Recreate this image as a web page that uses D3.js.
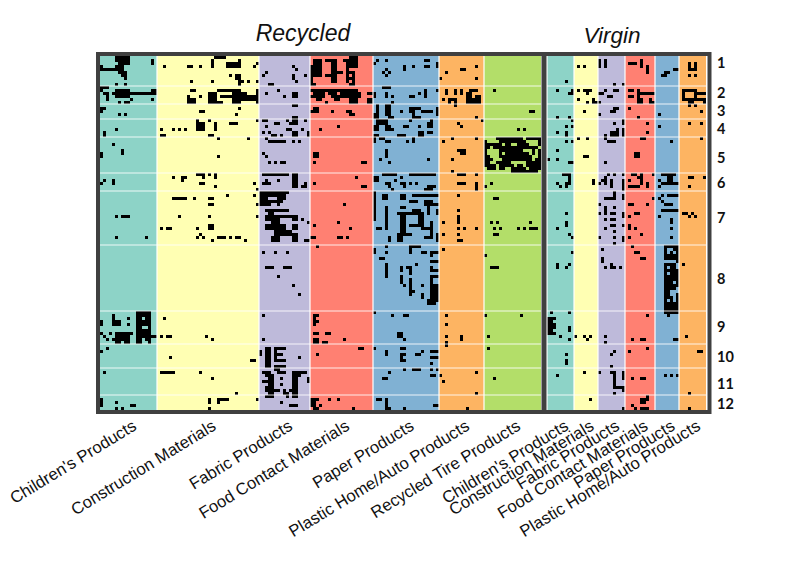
<!DOCTYPE html>
<html><head><meta charset="utf-8">
<script src="https://cdn.jsdelivr.net/npm/d3@7/dist/d3.min.js"></script>
<style>html,body{margin:0;padding:0;background:#fff}svg{display:block}</style>
</head><body><svg id="c" width="800" height="579"></svg>
<script>
// Product categories, in display order
const recycledCategories = ["Children's Products","Construction Materials","Fabric Products","Food Contact Materials","Paper Products","Plastic Home/Auto Products","Recycled Tire Products"];
const virginCategories = ["Children's Products","Construction Materials","Fabric Products","Food Contact Materials","Paper Products","Plastic Home/Auto Products"];
// Number of samples (columns) per category
const recycledSamples = [19,34,17,21,22,15,19];
const virginSamples = [9,8,9,10,8,9];
const sampleGap = 2;
// Number of chemicals (rows) per cluster
const clusterSizes = [10,6,5,6,12,6,18,22,11,8,9,5];
const clusterLabels = ["1","2","3","4","5","6","7","8","9","10","11","12"];
const clusterLabelRows = [2.3,12.3,18.3,24.3,33.7,42,53.7,74.3,90,100,109,115.7];
const categoryColors = ["#8dd3c7","#ffffb3","#bebada","#ff8072","#80b1d3","#fdb462","#b3de69"];
// Detections: [sample, chemical, sampleSpan, chemicalSpan]
const hitsRecChildren = [[5,0,5,2],[6,2,4,1],[5,3,3,2],[6,5,3,1],[7,6,2,1],[8,7],[17,1,1,2],[0,3,1,2],[1,4,2,1],[3,4,2,1],[5,9],[8,9],
[0,10,3,1],[5,11,5,3],[4,12],[9,12,9,1],[17,11,2,2],[0,11],[1,12,2,1],[2,13,1,2],[6,15],[8,15,2,1],[10,14],[17,14],
[0,17,1,2],[1,17],[6,19],[8,19],[5,24],[1,25,1,2],[4,29],[0,32,1,2],[7,31,1,2],[1,41],[4,41,1,2],[0,42],[5,53],[7,53,3,1],[5,60],[15,60],
[0,88,1,2],[4,86,1,4],[5,88,2,2],[9,87],[9,89],[12,85,5,2],[12,87,2,1],[15,87,2,1],[12,88,5,2],[12,90,2,1],[16,90],[12,91,5,2],
[0,92],[3,92],[1,93],[2,94],[4,94],[5,92,6,1],[5,93,5,2],[5,95,2,1],[8,95,2,1],[12,93,6,1],[12,94,2,1],[15,94,2,1],[12,95,2,1],[16,95],[18,93],
[0,98],[2,97],[1,105],[0,114,1,3],[5,115],[10,116,2,1],[5,117],[7,117]];
const hitsRecConstruction = [[37,1,1,3],[38,0,4,1],[42,2,5,2],[46,1],[52,2],[21,3],[29,3,2,1],[33,3],[37,3],[51,3],[43,6],[45,6,2,2],[46,8,2,1],[30,8],[37,8],[49,8],[52,8],[46,9],
[30,11,2,1],[29,14,3,2],[29,13,1,2],[33,13],[36,12,3,3],[36,15,3,1],[39,11,8,1],[40,13,12,1],[44,12,5,3],[49,13,4,2],[52,11,1,5],[39,15,2,1],[44,15,3,1],
[33,18,2,1],[46,17],[45,19],[20,24],[24,24],[26,24],[28,24],[32,22,3,3],[32,21],[36,21],[38,22,1,3],[43,22,3,1],[52,21],[20,26,2,1],[36,26,2,1],
[39,27],[49,27],[39,33],[24,40],[27,40,2,1],[27,41],[32,39,3,1],[34,40],[36,39],[38,39,1,2],[33,42,2,1],[38,43],[51,42],[52,44],
[24,47,5,1],[31,47],[36,47,2,1],[42,46],[51,46],[36,49,2,1],[52,49],[26,53],[36,53],[52,53],[20,57],[22,57,2,1],[32,57],[36,56,2,2],[33,59],[32,60],[34,60],[39,60,3,1],[43,60],[45,60,2,1],[37,61],[48,61],
[21,87],[22,93,2,1],[20,93],[35,93],[37,94],[23,100],[50,101,2,1],[20,105,5,1],[33,105],[37,107],[45,112],[36,114,1,2],[36,117],[39,114,4,1],[39,115],[52,114]];
const hitsRecFabric = [[64,3],[65,4],[64,6],[64,7],[65,8],[68,6],[55,5],[54,6],[56,9,2,1],[55,12],[59,11],[61,13],[64,12,2,2],[64,16,2,1],
[64,20,2,2],[54,21,2,1],[58,22,2,1],[62,21],[63,22,3,1],[55,23],[62,24,2,1],[68,21],[67,24],[54,25],[56,25],[57,26,2,1],[60,26],[64,25,2,2],[69,25,1,2],
[55,27],[56,28,2,1],[58,28,4,1],[64,28],[66,28],[54,32],[55,33],[56,35],[58,35],[60,35,2,1],
[54,39,9,1],[64,39,2,5],[54,42,3,1],[55,41],[59,41],[68,42],[67,43,2,1],
[53,45,10,1],[53,46,2,4],[54,46,8,1],[55,47,1,1],[59,47,3,1],[54,48,7,1],[54,49,3,1],[59,49],[55,51,8,1],[56,52,2,2],[56,53,8,1],[55,53,5,2],[57,55,3,2],[55,56,7,2],[58,58,6,2],[57,60,3,2],[64,53,2,2],[64,56,2,2],[64,59,2,3],[67,54],[69,55],[68,61,2,1],
[54,65],[58,65],[62,65],[55,70,3,1],[61,70,3,1],[59,73],[64,76],[66,79],[54,86],[54,94],
[53,98,1,2],[55,97,2,7],[58,97,1,5],[59,97,3,1],[59,99,2,1],[59,101,3,1],[58,103,4,1],[58,104,2,1],[66,100],
[54,105,3,1],[55,106,3,1],[56,107,2,6],[54,108,2,1],[55,110,2,2],[59,105,3,1],[60,107],[60,109],[64,105,5,1],[64,106,3,1],[64,107,2,7],[69,107,1,2],[57,111,3,1],[61,111,1,2],[62,112,1,2],[63,111],[55,113,3,1],[60,115],[63,116,3,1]];
const hitsRecFood = [[70,3,3,4],[71,1,2,2],[75,1,4,1],[77,2,2,7],[73,1,1,6],[81,1,3,1],[82,2,1,7],[84,5,1,4],[79,5,2,1],[75,6,2,1],[70,7,1,2],[70,9,2,1],[83,0,3,4],[83,5,2,1],[83,7,2,1],[84,8],[83,9,2,1],
[70,11,13,1],[71,12,4,1],[72,13,3,1],[76,12,3,1],[80,12,4,1],[77,13,6,1],[72,14,2,1],[78,14,2,1],[83,13,2,2],[70,13,2,1],[75,15],[83,11,3,5],[89,12,2,1],[89,14,2,2],[86,12,1,2],
[70,18,3,1],[71,17,2,1],[77,18],[82,18,2,1],[83,19,2,1],[73,24],[79,23],[71,32,2,2],[71,35],[87,35,2,1],[71,42],[85,40],[87,43,2,1],[81,49],[71,56],[79,55],[70,60,2,1],[79,60,2,1],[82,60],[83,57],
[72,63],[71,86,2,1],[71,87,1,3],[71,88,2,1],[71,92,2,1],[75,92,2,1],[71,94,2,2],[74,95,2,1],[81,94],[72,99],[86,97,2,1],
[70,114,3,1],[70,115,2,2],[71,117,2,1],[73,116],[76,114],[79,114],[84,117]];
const hitsRecPaper = [[92,1],[95,1],[95,4],[94,5],[96,5],[95,6],[91,2],[101,3],[104,3],[108,1,2,1],[108,3,2,1],[101,4],[112,3],[112,2],
[94,10,3,1],[95,12,1,2],[97,13],[103,13,2,1],[106,12],[108,11,1,3],[97,15],[91,12,1,2],[112,11],
[92,16,1,4],[91,19,2,2],[95,16,2,4],[96,20,2,1],[100,18],[103,17,1,2],[104,17,1,4],[105,17,2,1],[105,20,2,1],[107,18,3,1],[110,18],[112,17,1,3],
[92,21,4,2],[91,23,2,2],[95,24,3,1],[91,26,2,1],[95,23,2,1],[99,26,3,1],[101,23],[103,21],[102,23],[106,25,2,2],[106,23],[109,22,2,2],[109,25,2,1],[110,21],
[91,27,1,2],[93,27],[94,27],[95,28,2,1],[102,28],[104,28],[104,27],[93,34],[95,31,1,3],[96,35],[109,34],
[91,40,2,2],[94,39,5,1],[95,42,2,1],[96,43],[97,44],[100,40],[100,42,2,1],[101,43],[98,41],[103,42],[105,42],[103,39,9,1],[109,43,3,1],[108,44,3,1],
[91,45,1,6],[94,46,2,2],[91,51,1,4],[95,50,1,8],[100,46,2,2],[104,46,4,1],[108,46,5,1],[103,48,3,1],[100,50,2,1],[99,52,9,1],[100,52,2,7],[104,51,3,1],[106,52,2,5],[108,48,3,2],[109,50,1,3],[111,49,2,1],[112,51,1,2],[110,55,1,5],[107,57,4,1],[103,56,5,1],[92,57,2,1],[96,60,1,2],[99,59,5,1],[99,60,2,2],[108,60,3,1],[112,59,1,3],
[91,64,1,2],[95,63],[95,65],[93,67,2,1],[103,63,4,1],[103,64,1,2],[107,65,2,1],[110,65,3,1],[110,66],[110,68,3,1],[95,69,1,5],[100,70,1,2],[100,73,1,3],[101,76],[103,70,1,3],[102,70],[105,69],[103,74,1,6],[104,78],[107,76],[107,79,1,2],[110,70],[110,71,3,1],[110,73,3,1],[110,74,1,9],[111,76,1,6],[112,76,1,5],[109,81,3,2],[112,81],
[91,85],[97,86],[101,86,2,1],[99,92,2,2],[101,94],[91,97],[95,98,1,2],[100,97,2,1],[100,99,1,3],[101,99],[101,101],[107,98],[110,98,3,1],[105,99,2,1],[110,100,3,1],[110,102],[101,104],[104,104,3,1],[110,104],[112,104],
[96,105],[94,107,2,1],[110,106,2,1],[92,114,2,1],[95,114],[95,115,1,2],[95,117,2,1],[101,117],[111,116,2,1]];
const hitsRecPlastic = [[125,3],[120,4,2,1],[115,5],[113,7],[125,7],[115,11,1,2],[118,11,1,2],[120,11,1,2],[114,14],[116,14,3,1],[118,15,1,2],[116,15],[123,11,3,1],[122,12,2,2],[122,14,5,2],[125,13,2,1],
[125,20],[127,21],[119,22],[120,23],[114,28],[117,27],[125,27],[119,31,3,1],[120,32,2,1],[117,34],[117,38],[119,39,3,1],[125,39],[119,42,3,1],[125,42,1,3],
[119,46],[119,51],[119,53,1,3],[114,55],[119,57],[121,57],[125,57],[114,59],[119,59],[119,61,2,1],[114,64],[115,86],[115,89],[115,93],[115,95,1,2],[120,93,1,2],[113,106],[114,108],[125,105],[125,112],[122,117]];
const hitsRecTire = [[131,11],[143,18,2,1],[139,24],[141,24],
[132,27,9,1],[142,27,5,1],[128,28],[133,28,9,1],[146,28],[128,29,6,1],[135,29,2,1],[139,29,4,1],[146,29],[128,30,2,1],[131,30,15,1],[128,31],[133,31,8,1],[144,31],[146,31],[128,32],[133,32],[135,32,8,1],[144,32],[146,32],[128,33,2,1],[133,33,11,1],[146,33],[128,34,3,1],[134,34,10,1],[145,34,2,1],[128,35,2,1],[132,35,5,1],[142,35,5,1],[128,36,4,1],[133,36,5,1],[139,36,2,1],[142,36,5,1],[129,37,3,1],[133,37,2,1],[137,37,5,1],[143,37,4,1],[137,38,9,1],
[128,43],[130,42],[131,47,2,1],[130,55],[131,57],[133,57],[132,55],[139,57],[141,57],[143,57,3,1],[143,55],[131,59,2,1],
[128,66],[130,70,3,1],[128,86],[140,86],[129,93],[129,97],[131,107]];
const hitsVirChildren = [[155,8],[152,11],[156,12,2,1],[157,11],[152,20],[156,20],[157,21],[155,23],[157,23],[155,25,1,2],[152,25],[155,28],[157,28],[152,31],[149,34],[152,34],[156,35,2,1],
[154,39,3,1],[156,40,1,3],[155,42,2,1],[152,42],[153,43],[155,43],[155,52],[155,55,1,2],[152,57],[156,59],[157,60],[157,65],[152,69,1,2],[155,70],[156,69],
[150,85],[156,85],[149,87,3,1],[149,88,2,1],[149,89,3,2],[149,91,2,2],[150,92,2,1],[156,90,1,2],[153,93],[156,94],[158,93],[155,99],[155,101,1,2],[152,106]];
const hitsVirConstruction = [[159,3],[161,3],[166,1,1,3],[159,11],[161,11,3,1],[162,12],[164,14,1,2],[165,15,2,1],[159,14],[162,15],[166,12],[161,18],[166,19],[159,27],[162,27],[161,33,2,1],[164,41,1,2],[166,42],[166,49],[166,52],[166,60],[161,93],[162,94],[163,93],[161,105],[166,105],[163,114]];
const hitsVirFabric = [[168,1,1,3],[171,9],[174,9],[168,11],[167,12],[169,13],[170,13],[171,11,2,1],[171,17,2,1],[170,18,2,1],[171,22],[174,22],[174,21],[170,25,3,2],[172,24],[168,26],[174,24,1,3],[168,27],[169,28,3,1],[168,35],
[168,40,1,3],[169,39],[171,39],[170,41,1,3],[174,39],[174,41,1,4],[167,41],[168,47,3,1],[171,45,1,3],[174,46,1,2],[168,50,1,2],[171,50],[168,52],[170,52,2,1],[168,54],[170,54,2,1],[170,56,2,1],[174,52,1,2],[174,56],[171,58],[168,57],[171,60],[174,60,1,2],[171,62],
[167,64],[167,67,1,2],[168,70],[170,69,1,2],[171,70],[173,70],[168,93],[168,95],[171,98],[170,99],[170,103],[170,105,2,1],[171,105,1,6],[171,110,4,1],[174,111],[174,105,1,3],[171,112],[174,117]];
const hitsVirFood = [[176,2],[177,2,2,1],[180,1,1,3],[182,3,1,3],[176,11,2,1],[176,13,2,1],[179,11,1,3],[180,12,2,1],[182,12,3,1],[179,14,2,2],[183,14,1,2],[184,15],[176,17],[179,20],[182,22],[182,25],[180,27,2,1],[178,32,2,2],
[177,39,2,1],[179,40],[180,39,1,4],[177,43,3,1],[176,41],[176,43],[182,42,1,2],[184,39],[184,47],[176,49,2,1],[182,49],[178,52,2,1],[176,53],[176,56,1,2],[178,57],[180,59],[176,60],
[177,63],[178,65,2,1],[180,67,2,1],[182,86],[177,94],[180,94,2,1],[176,98],[182,97],[177,107],[180,107,2,1],[180,114,2,2],[182,113,1,2],[177,116],[178,117],[180,117,2,1],[182,117]];
const hitsVirPaper = [[188,5,2,1],[187,6,2,1],[191,4,2,1],[186,19],[186,23],[190,28],[187,39,5,1],[189,40,2,3],[187,42,6,1],[186,41],[186,43],[189,46,4,1],[187,46],[186,47],[187,48],[188,49],[189,49,2,1],[187,51,6,1],[190,54,1,2],[186,53],[190,57],[190,60],
[188,63,5,1],[188,64],[191,64,2,1],[188,65],[190,65],[192,65],[188,66,5,2],[192,68],[188,69,4,1],[188,70],[190,70,2,1],[188,71,5,1],[188,72],[190,72,3,1],[188,73,5,2],[188,75,3,1],[192,75],[188,76,5,1],[188,77,3,1],[191,77],[188,78,2,1],[188,79,2,1],[192,79],[188,80,3,1],[192,80],[188,81],[190,81],[192,81],[188,82,5,4],
[189,86],[191,94,2,1],[188,106],[190,106],[192,106]];
const hitsVirPlastic = [[196,2,1,3],[198,2,1,3],[196,4,3,1],[196,6],[198,6],[194,11,4,1],[194,12,1,2],[198,11,1,3],[194,14,5,1],[196,15,2,1],[199,12,3,1],[199,14,3,1],[201,15],[196,16],[198,16],[200,18],[196,22],[200,22],[200,27],[196,40,2,1],[201,40],[196,43],[194,52,2,1],[196,53],[197,52],[198,53],[194,69],[195,93],[199,98,2,1],[196,112],[196,117]];
const allHits = [hitsRecChildren,hitsRecConstruction,hitsRecFabric,hitsRecFood,hitsRecPaper,hitsRecPlastic,hitsRecTire,hitsVirChildren,hitsVirConstruction,hitsVirFabric,hitsVirFood,hitsVirPaper,hitsVirPlastic];

const recycledTotal = d3.sum(recycledSamples);
const totalSamples = recycledTotal + sampleGap + d3.sum(virginSamples);
const totalRows = d3.sum(clusterSizes);
const x = d3.scaleLinear().domain([0,totalSamples]).range([100,706]);
const y = d3.scaleLinear().domain([0,totalRows]).range([56,410]);
const svg = d3.select("#c");
const font = "'Liberation Sans',Arial,sans-serif";

// Column backgrounds
const bands = [];
let s = 0;
recycledCategories.forEach((n,i)=>{bands.push({name:n,from:s,to:s+recycledSamples[i],color:categoryColors[i]}); s+=recycledSamples[i];});
s += sampleGap;
virginCategories.forEach((n,i)=>{bands.push({name:n,from:s,to:s+virginSamples[i],color:categoryColors[i]}); s+=virginSamples[i];});

const plot = svg.append("g").attr("style","filter:blur(0.45px)");
plot.selectAll("rect.band").data(bands).join("rect").attr("class","band")
  .attr("x",d=>x(d.from)).attr("width",d=>x(d.to)-x(d.from))
  .attr("y",y(0)).attr("height",y(totalRows)-y(0)).attr("fill",d=>d.color);
plot.selectAll("g.hits").data(allHits).join("g").attr("class","hits")
  .selectAll("rect").data(d=>d).join("rect")
  .attr("x",d=>x(d[0])).attr("y",d=>y(d[1]))
  .attr("width",d=>x(d[0]+(d[2]||1))-x(d[0])).attr("height",d=>y(d[1]+(d[3]||1))-y(d[1]))
  .attr("fill","#000");
// White separators
plot.selectAll("line.col").data(bands.filter(b=>b.from>0)).join("line").attr("class","col")
  .attr("x1",d=>x(d.from)).attr("x2",d=>x(d.from)).attr("y1",y(0)).attr("y2",y(totalRows))
  .attr("stroke","#fff").attr("stroke-width",1.2);
const clusterEnds = d3.cumsum(clusterSizes).slice(0,-1);
plot.selectAll("line.row").data(clusterEnds).join("line").attr("class","row")
  .attr("x1",x(0)).attr("x2",x(totalSamples)).attr("y1",d=>y(d)).attr("y2",d=>y(d))
  .attr("stroke","#fff").attr("stroke-width",1.2).attr("stroke-opacity",.85);
// Frame
svg.append("rect").attr("x",98).attr("y",54).attr("width",611.5).attr("height",358)
  .attr("fill","none").attr("stroke","#404040").attr("stroke-width",4);
svg.append("line").attr("x1",x(recycledTotal+sampleGap/2)).attr("x2",x(recycledTotal+sampleGap/2))
  .attr("y1",54).attr("y2",412).attr("stroke","#404040").attr("stroke-width",5);

// Titles
svg.append("text").attr("x",303).attr("y",41).attr("text-anchor","middle")
  .attr("font-family",font).attr("font-style","italic").attr("font-size",23).attr("fill","#111").text("Recycled");
svg.append("text").attr("x",612).attr("y",43).attr("text-anchor","middle")
  .attr("font-family",font).attr("font-style","italic").attr("font-size",22.5).attr("fill","#111").text("Virgin");
// Cluster labels
svg.selectAll("text.cl").data(clusterLabels).join("text").attr("class","cl")
  .attr("x",717).attr("y",(d,i)=>y(clusterLabelRows[i])+5.5)
  .attr("font-family","Lato,sans-serif").attr("font-weight",700).attr("font-size",14.5).attr("fill","#111").text(d=>d);
// Category labels
svg.selectAll("text.cat").data(bands).join("text").attr("class","cat")
  .attr("text-anchor","end").attr("font-family",font).attr("font-size",16.7).attr("fill","#111")
  .attr("transform",d=>`translate(${x((d.from+d.to)/2)+9},${429}) rotate(-31.5)`).text(d=>d.name);
</script></body></html>
